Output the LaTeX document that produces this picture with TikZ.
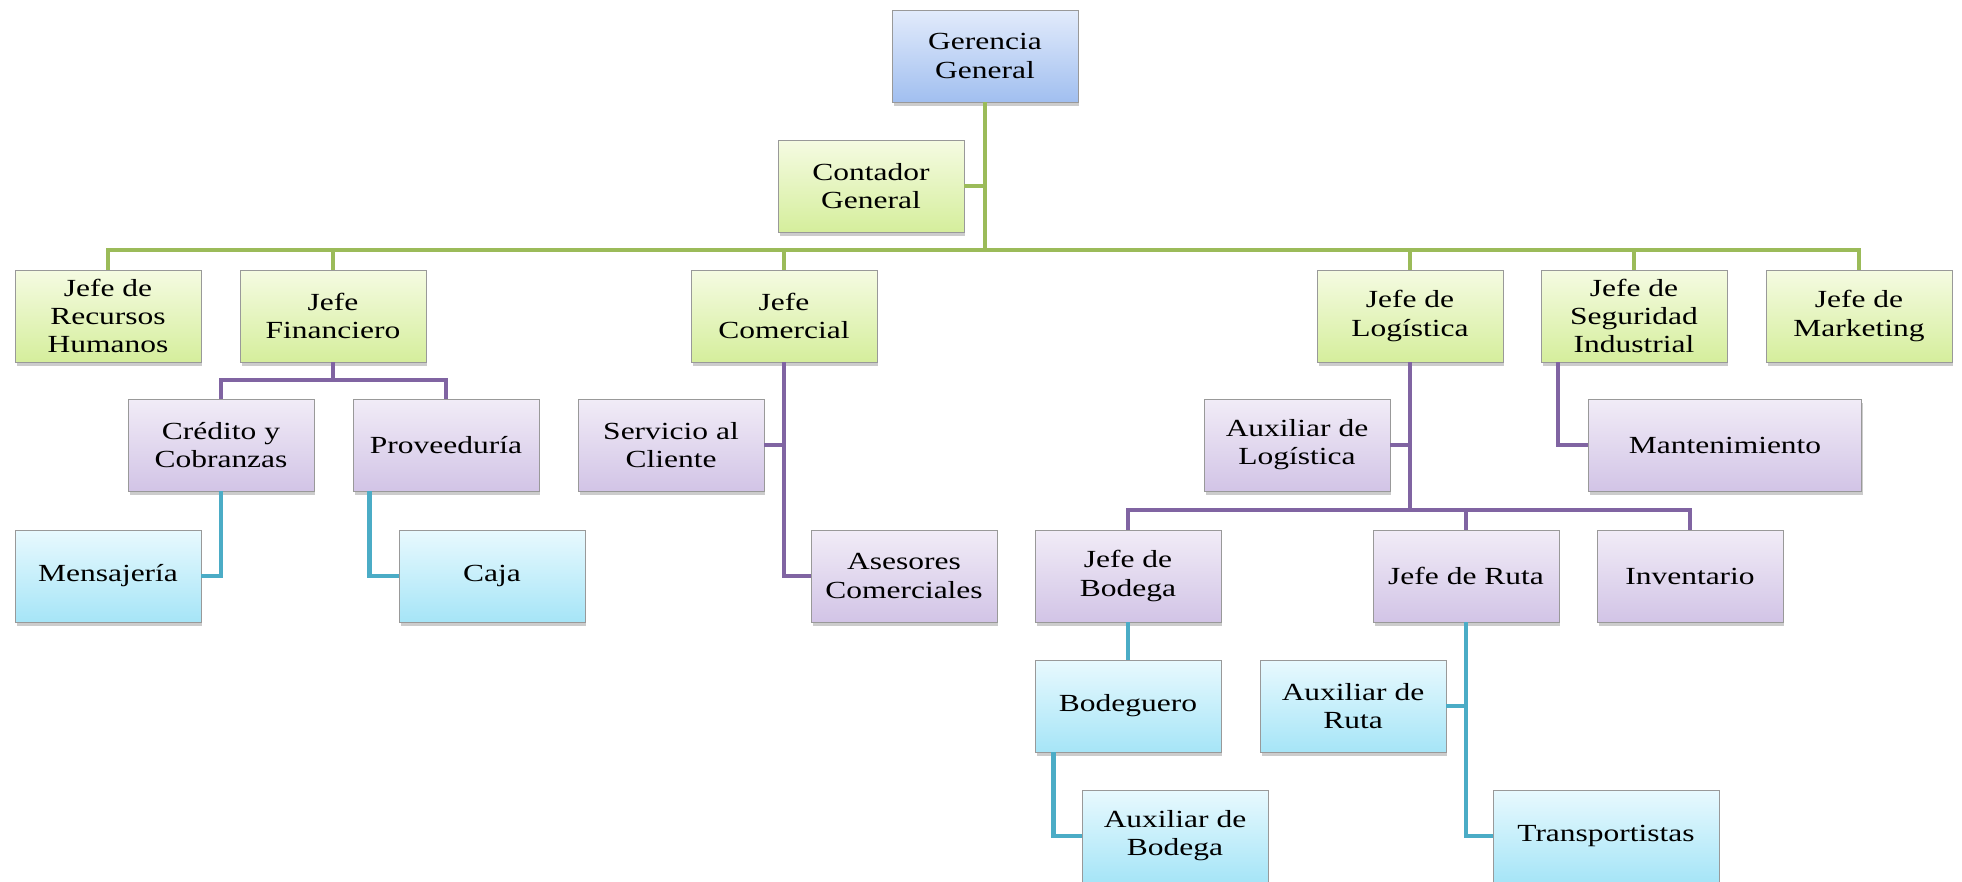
\documentclass[tikz,border=0pt]{standalone}
\usepackage{fontspec}
\setmainfont{Liberation Serif}[FakeStretch=1.28]
\usetikzlibrary{shadows}

\definecolor{lnverde}{HTML}{9BBB59}
\definecolor{lnmorado}{HTML}{8064A2}
\definecolor{lnazul}{HTML}{4BACC6}

\begin{document}
\begin{tikzpicture}[x=0.02cm, y=-0.02cm,
		puesto/.style={draw=black!40, line width=0.5pt, minimum width=3.72cm, minimum height=1.84cm,
			inner sep=0pt, align=center, text=black, font=\fontsize{14}{16}\selectfont,
			drop shadow={shadow xshift=0.03cm, shadow yshift=-0.08cm, opacity=0.4}},
		pgerencia/.style={puesto, top color={rgb,255:red,226;green,235;blue,251}, bottom color={rgb,255:red,161;green,191;blue,240}},
		pverde/.style={puesto, top color={rgb,255:red,245;green,251;blue,226}, bottom color={rgb,255:red,213;green,238;blue,156}},
		pmorado/.style={puesto, top color={rgb,255:red,241;green,236;blue,247}, bottom color={rgb,255:red,210;green,196;blue,230}},
		pazul/.style={puesto, top color={rgb,255:red,232;green,249;blue,254}, bottom color={rgb,255:red,166;green,229;blue,247}},
		cverde/.style={draw=lnverde, line width=0.9mm},
		cmorado/.style={draw=lnmorado, line width=0.9mm},
		cazul/.style={draw=lnazul, line width=0.9mm}]
			%%%%% START %%%%%
			
			\useasboundingbox (0,0) rectangle (1962,882);
			
			\node[pgerencia] (gg) at (985,56) {Gerencia\\General};
			\node[pverde] (cont) at (871,186) {Contador\\General};
			
			\node[pverde] (rrhh) at (108,316) {Jefe de\\Recursos\\Humanos};
			\node[pverde] (fin) at (333,316) {Jefe\\Financiero};
			\node[pverde] (com) at (784,316) {Jefe\\Comercial};
			\node[pverde] (log) at (1410,316) {Jefe de\\Logística};
			\node[pverde] (seg) at (1634,316) {Jefe de\\Seguridad\\Industrial};
			\node[pverde] (mkt) at (1859,316) {Jefe de\\Marketing};
			
			\node[pmorado] (cred) at (221,445) {Crédito y\\Cobranzas};
			\node[pmorado] (prov) at (446,445) {Proveeduría};
			\node[pmorado] (serv) at (671,445) {Servicio al\\Cliente};
			\node[pmorado] (auxlog) at (1297,445) {Auxiliar de\\Logística};
			\node[pmorado, minimum width=5.46cm] (mant) at (1725,445) {Mantenimiento};
			
			\node[pazul] (mens) at (108,576) {Mensajería};
			\node[pazul] (caja) at (492,576) {Caja};
			\node[pmorado] (ases) at (904,576) {Asesores\\Comerciales};
			\node[pmorado] (bod) at (1128,576) {Jefe de\\Bodega};
			\node[pmorado] (ruta) at (1466,576) {Jefe de Ruta};
			\node[pmorado] (inv) at (1690,576) {Inventario};
			
			\node[pazul] (bodeg) at (1128,706) {Bodeguero};
			\node[pazul] (auxruta) at (1353,706) {Auxiliar de\\Ruta};
			
			\node[pazul] (auxbod) at (1175,836) {Auxiliar de\\Bodega};
			\node[pazul, minimum width=4.52cm] (transp) at (1606,836) {Transportistas};
			
			% lineas verdes
			\coordinate (bus) at (0,250);
			\draw[cverde] (gg.south) -- (gg.south |- bus);
			\draw[cverde] (cont.east) -- (cont.east -| gg.south);
			\draw[cverde] (rrhh.north) -- (rrhh.north |- bus) -- (mkt.north |- bus) -- (mkt.north);
			\foreach \n in {fin,com,log,seg}
				\draw[cverde] (\n.north) -- (\n.north |- bus);
			
			% lineas moradas
			\coordinate (finbus) at (0,380);
			\coordinate (logbus) at (0,510);
			\draw[cmorado] (fin.south) -- (fin.south |- finbus);
			\draw[cmorado] (cred.north) -- (cred.north |- finbus) -- (prov.north |- finbus) -- (prov.north);
			\draw[cmorado] (com.south) |- (ases.west);
			\draw[cmorado] (serv.east) -- (serv.east -| com.south);
			\draw[cmorado] (log.south) -- (log.south |- logbus);
			\draw[cmorado] (auxlog.east) -- (auxlog.east -| log.south);
			\draw[cmorado] (bod.north) -- (bod.north |- logbus) -- (inv.north |- logbus) -- (inv.north);
			\draw[cmorado] (ruta.north) -- (ruta.north |- logbus);
			\draw[cmorado] ([xshift=0.35cm]seg.south west) |- (mant.west);
			
			% lineas azules
			\draw[cazul] (cred.south) |- (mens.east);
			\draw[cazul] ([xshift=0.34cm]prov.south west) |- (caja.west);
			\draw[cazul] (bod.south) -- (bodeg.north);
			\draw[cazul] ([xshift=0.38cm]bodeg.south west) |- (auxbod.west);
			\draw[cazul] (ruta.south) |- (transp.west);
			\draw[cazul] (auxruta.east) -- (auxruta.east -| ruta.south);
			
			%%%%% END %%%%%
\end{tikzpicture}
\end{document}
